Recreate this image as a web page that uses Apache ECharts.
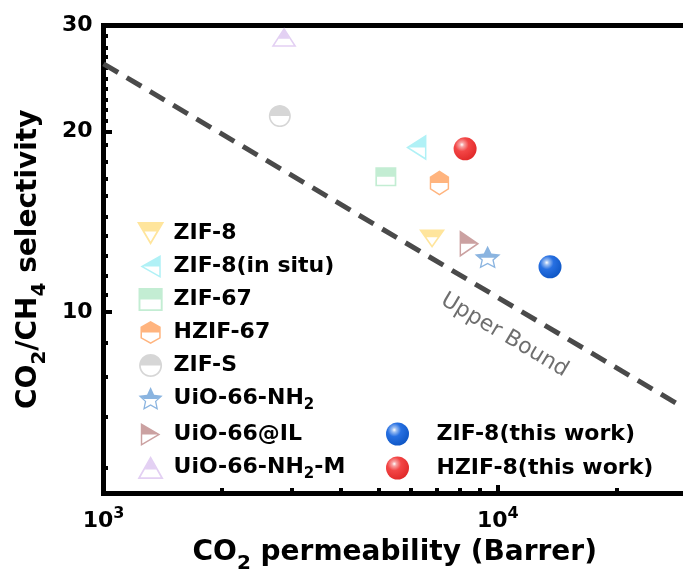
<!DOCTYPE html>
<html>
<head>
<meta charset="utf-8">
<script src="https://cdn.jsdelivr.net/npm/echarts@6/dist/echarts.min.js"></script>
<style>
  html, body { margin: 0; padding: 0; background: #fff; }
  #main { width: 683px; height: 576px; }
</style>
</head>
<body>
<div id="main"></div>
<script>
var names = ['ZIF-8', 'ZIF-8(in situ)', 'ZIF-67', 'HZIF-67', 'ZIF-S', 'UiO-66-NH2', 'UiO-66@IL', 'UiO-66-NH2-M', 'ZIF-8(this work)', 'HZIF-8(this work)'];
var legendLabels = ['ZIF-8', 'ZIF-8(in situ)', 'ZIF-67', 'HZIF-67', 'ZIF-S', 'UiO-66-NH{s|2}', 'UiO-66@IL', 'UiO-66-NH{s|2}-M', 'ZIF-8(this work)', 'HZIF-8(this work)'];
var permeability = [6810, 6210, 5200, 7110, 2800, 9420, 8470, 2870, 13560, 8260];
var selectivity = [13.25, 18.8, 16.8, 16.4, 21.2, 12.35, 13.0, 28.7, 11.9, 18.7];

var boundX = [1000, 30000];
var boundY = [25.9, 6.9];
var boundLabelPos = [10400, 9.15];

var xTicks = [1000, 10000];
var xTickLabels = ['10{sup|3}', '10{sup|4}'];
var xMinorTicks = [2000, 3000, 4000, 5000, 6000, 7000, 8000, 9000, 20000];
var yTicks = [10, 20, 30];
var yTickLabels = ['10', '20', '30'];
var yMinorTicks = [5.5, 6.7, 7.8, 8.9, 10.7, 11.5, 12.4, 13.4, 14.4, 15.6, 16.7, 17.8, 19.0,
  20.8, 21.7, 22.6, 23.5, 24.5, 25.5, 26.6, 27.6, 28.8];

var FONT = 'DejaVu Sans';

// half filled outline markers (top half solid, bottom half hollow)
function ring(pts) {
  return 'M' + pts.map(function (p) { return p[0].toFixed(2) + ' ' + p[1].toFixed(2); }).join('L') + 'Z';
}
function clipTop(poly, m) {
  var out = [];
  for (var i = 0; i < poly.length; i++) {
    var a = poly[i], b = poly[(i + 1) % poly.length];
    var ain = a[1] <= m, bin = b[1] <= m;
    if (ain) out.push(a);
    if (ain !== bin) {
      var t = (m - a[1]) / (b[1] - a[1]);
      out.push([a[0] + t * (b[0] - a[0]), m]);
    }
  }
  return out;
}
function halfSymbol(pts, k) {
  var n = pts.length, cx = 0, cy = 0, minY = Infinity, maxY = -Infinity;
  pts.forEach(function (p) {
    cx += p[0] / n; cy += p[1] / n;
    minY = Math.min(minY, p[1]); maxY = Math.max(maxY, p[1]);
  });
  var inner = pts.map(function (p) { return [cx + (p[0] - cx) * k, cy + (p[1] - cy) * k]; });
  var mid = ((minY + maxY) / 2 + cy) / 2;
  return 'path://' + ring(pts) + ring(inner.slice().reverse()) + ring(clipTop(inner, mid));
}
function circlePts(r) {
  var p = [];
  for (var i = 0; i < 40; i++) {
    var a = i / 40 * Math.PI * 2;
    p.push([r + r * Math.cos(a), r + r * Math.sin(a)]);
  }
  return p;
}
function starPts(R, r) {
  var p = [];
  for (var i = 0; i < 10; i++) {
    var a = -Math.PI / 2 + i * Math.PI / 5;
    var rr = i % 2 ? r : R;
    p.push([R + rr * Math.cos(a), R + rr * Math.sin(a)]);
  }
  return p;
}

var markers = [
  { symbol: halfSymbol([[0, 0], [26, 0], [13, 22]], 0.77), size: [26, 22], color: '#FFE59C' },
  { symbol: halfSymbol([[23, 0], [23, 26], [0, 13]], 0.78), size: [23, 26], color: '#B0F1F6' },
  { symbol: halfSymbol([[0, 0], [21, 0], [21, 20], [0, 20]], 0.84), size: [21, 20], color: '#C3EDD3' },
  { symbol: halfSymbol([[11, 0], [22, 6.25], [22, 18.75], [11, 25], [0, 18.75], [0, 6.25]], 0.85), size: [22, 25], color: '#FFB47E' },
  { symbol: halfSymbol(circlePts(11), 0.85), size: [22, 22], color: '#D6D6D6' },
  { symbol: halfSymbol(starPts(13.5, 6.4), 0.76), size: [26, 24], color: '#8AB4E0' },
  { symbol: halfSymbol([[0, 0], [23, 13.5], [0, 27]], 0.78), size: [23, 27], color: '#CBA1A1' },
  { symbol: halfSymbol([[12.5, 0], [25, 22], [0, 22]], 0.77), size: [25, 22], color: '#E3D0F3' }
];

function sphere(c1, c2, c3) {
  return {
    type: 'radial', x: 0.36, y: 0.32, r: 0.7,
    colorStops: [
      { offset: 0, color: '#ffffff' },
      { offset: 0.14, color: c1 },
      { offset: 0.42, color: c2 },
      { offset: 1, color: c3 }
    ]
  };
}
var spheres = [sphere('#9DBFF2', '#2770E2', '#0F57C6'), sphere('#F7A3A3', '#F34646', '#E12A2A')];

var series = [{
  type: 'line',
  data: boundX.map(function (x, i) { return [x, boundY[i]]; }),
  symbol: 'none',
  silent: true,
  lineStyle: { color: '#4A4A4A', width: 5, type: [17, 10] },
  z: 1
}, {
  type: 'scatter',
  data: [boundLabelPos],
  symbolSize: 1,
  silent: true,
  itemStyle: { color: 'transparent' },
  label: {
    show: true, position: 'inside', formatter: 'Upper Bound', rotate: -30.6,
    fontFamily: FONT, fontSize: 22, color: '#4A4A4A'
  }
}];
names.forEach(function (name, i) {
  var m = markers[i];
  series.push({
    type: 'scatter',
    name: name,
    data: [[permeability[i], selectivity[i]]],
    symbol: m ? m.symbol : 'circle',
    symbolSize: m ? m.size : 23,
    symbolKeepAspect: true,
    itemStyle: { color: m ? m.color : spheres[i - markers.length], opacity: 1 },
    emphasis: { disabled: true },
    z: 3
  });
});

var legendText = {
  fontFamily: FONT, fontSize: 22, fontWeight: 'bold', color: '#000',
  rich: { s: { fontFamily: FONT, fontSize: 15, fontWeight: 'bold', padding: [14, 0, 0, 0] } }
};
function legendFormat(name) { return legendLabels[names.indexOf(name)]; }

function findLabel(ticks, labels, v) {
  for (var i = 0; i < ticks.length; i++) {
    if (Math.abs(ticks[i] - v) / ticks[i] < 1e-6) return labels[i];
  }
  return '';
}

var tickLine = { color: '#000', width: 4 };
var axisLine = { show: true, lineStyle: { color: '#000', width: 5, cap: 'square' } };

var option = {
  animation: false,
  grid: { left: 103.5, top: 25.5, right: -3, bottom: 83, outerBoundsMode: 'none' },
  legend: [{
    orient: 'vertical', left: 132, top: 217,
    itemWidth: 36, itemHeight: 23, itemGap: 10,
    selectedMode: false,
    data: names.slice(0, 8),
    formatter: legendFormat,
    textStyle: legendText
  }, {
    orient: 'vertical', left: 381, top: 417.5,
    itemWidth: 68, itemHeight: 23, itemGap: 11,
    selectedMode: false,
    data: names.slice(8),
    formatter: legendFormat,
    textStyle: legendText
  }],
  xAxis: [{
    type: 'log', min: 1000, max: 30000, position: 'bottom',
    name: 'CO{s|2} permeability (Barrer)', nameLocation: 'middle', nameGap: 39,
    nameMoveOverlap: false,
    nameTextStyle: {
      fontFamily: FONT, fontSize: 28, fontWeight: 'bold', color: '#000',
      rich: { s: { fontFamily: FONT, fontSize: 20, fontWeight: 'bold', padding: [22, 0, 0, 0] } }
    },
    axisLine: axisLine,
    axisTick: { show: true, inside: true, length: 8, lineStyle: tickLine, customValues: xTicks },
    axisLabel: {
      show: true, margin: 13, customValues: xTicks,
      fontFamily: FONT, fontSize: 22, fontWeight: 'bold', color: '#000',
      formatter: function (v) { return findLabel(xTicks, xTickLabels, v); },
      rich: { sup: { fontFamily: FONT, fontSize: 16, fontWeight: 'bold', padding: [0, 0, 14, 0] } }
    },
    splitLine: { show: false }
  }, {
    type: 'log', min: 1000, max: 30000, position: 'bottom',
    axisLine: { show: false },
    axisTick: { show: true, inside: true, length: 5, lineStyle: tickLine, customValues: xMinorTicks },
    axisLabel: { show: false },
    splitLine: { show: false }
  }, {
    type: 'log', min: 1000, max: 30000, position: 'top',
    axisLine: axisLine,
    axisTick: { show: false },
    axisLabel: { show: false },
    splitLine: { show: false }
  }],
  yAxis: [{
    type: 'log', min: 5, max: 30, position: 'left',
    name: 'CO{s|2}/CH{s|4} selectivity', nameLocation: 'middle', nameGap: 54,
    nameMoveOverlap: false,
    nameTextStyle: {
      fontFamily: FONT, fontSize: 28, fontWeight: 'bold', color: '#000',
      rich: { s: { fontFamily: FONT, fontSize: 20, fontWeight: 'bold', padding: [22, 0, 0, 0] } }
    },
    axisLine: axisLine,
    axisTick: { show: true, inside: true, length: 8.5, lineStyle: tickLine, customValues: [10, 20] },
    axisLabel: {
      show: true, margin: 11, customValues: yTicks,
      fontFamily: FONT, fontSize: 22, fontWeight: 'bold', color: '#000',
      formatter: function (v) { return findLabel(yTicks, yTickLabels, v); }
    },
    splitLine: { show: false }
  }, {
    type: 'log', min: 5, max: 30, position: 'left',
    axisLine: { show: false },
    axisTick: { show: true, inside: true, length: 4.5, lineStyle: tickLine, customValues: yMinorTicks },
    axisLabel: { show: false },
    splitLine: { show: false }
  }],
  series: series
};

var chart = echarts.init(document.getElementById('main'), null, { renderer: 'canvas' });
chart.setOption(option);
</script>
</body>
</html>
